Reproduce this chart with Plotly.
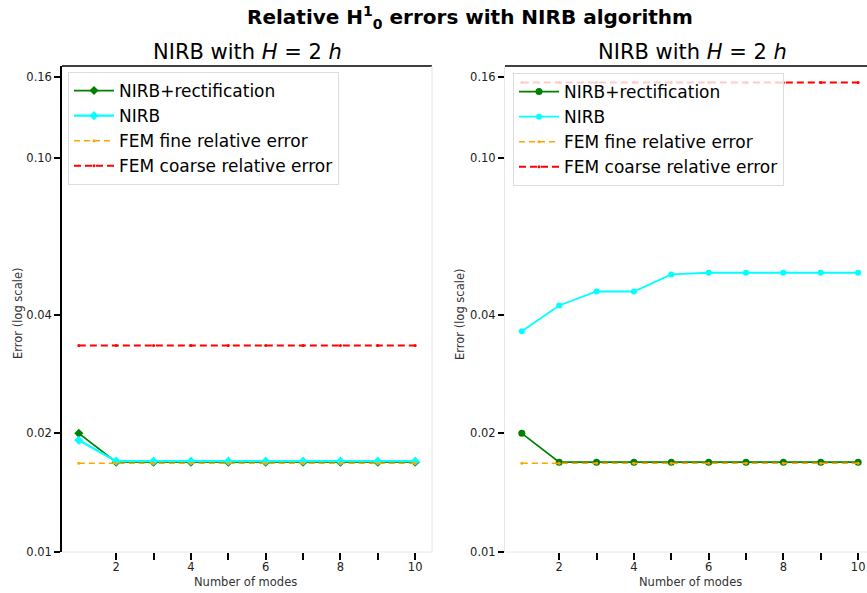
import plotly.graph_objects as go

# ---------------- data ----------------
modes = [1, 2, 3, 4, 5, 6, 7, 8, 9, 10]

left_rectif = [0.0200, 0.0169, 0.0169, 0.0169, 0.0169, 0.0169, 0.0169, 0.0169, 0.0169, 0.0169]
left_nirb = [0.0192, 0.0170, 0.0170, 0.0170, 0.0170, 0.0170, 0.0170, 0.0170, 0.0170, 0.0170]
left_fine = [0.0168, 0.0168, 0.0168, 0.0168, 0.0168, 0.0168, 0.0168, 0.0168, 0.0168, 0.0168]
left_coarse = [0.0334, 0.0334, 0.0334, 0.0334, 0.0334, 0.0334, 0.0334, 0.0334, 0.0334, 0.0334]

right_rectif = [0.0200, 0.0169, 0.0169, 0.0169, 0.0169, 0.0169, 0.0169, 0.0169, 0.0169, 0.0169]
right_nirb = [0.0363, 0.0422, 0.0458, 0.0458, 0.0506, 0.0511, 0.0511, 0.0511, 0.0511, 0.0511]
right_fine = [0.0168, 0.0168, 0.0168, 0.0168, 0.0168, 0.0168, 0.0168, 0.0168, 0.0168, 0.0168]
right_coarse = [0.1554, 0.1554, 0.1554, 0.1554, 0.1554, 0.1554, 0.1554, 0.1554, 0.1554, 0.1554]

series_names = ["NIRB+rectification", "NIRB", "FEM fine relative error", "FEM coarse relative error"]

x_tickvals = [2, 4, 6, 8, 10]
x_ticktext = ["2", "4", "6", "8", "10"]
x_minor_tickvals = [3, 5, 7, 9]
y_tickvals = [0.01, 0.02, 0.04, 0.10, 0.16]
y_ticktext = ["0.01", "0.02", "0.04", "0.10", "0.16"]

main_title = "<b>Relative H<sup>1</sup><sub>0</sub> errors with NIRB algorithm</b>"
sub_title = "NIRB with <i>H</i> = 2 <i>h</i>"
y_title = "Error (log scale)"
x_title = "Number of modes"

# ---------------- figure ----------------
W, H = 867, 593
FONT = "DejaVu Sans"
fig = go.Figure()

GREEN = "#008000"
CYAN = "#00FFFF"
ORANGE = "#FFA500"
RED = "#FF0000"


def add_panel(xa, ya, legend, rectif, nirb, fine, coarse, sym):
    fig.add_trace(go.Scatter(x=modes, y=rectif, name=series_names[0], mode="lines+markers",
                             line=dict(color=GREEN, width=1.8),
                             marker=dict(symbol=sym, size=7, color=GREEN),
                             xaxis=xa, yaxis=ya, legend=legend))
    fig.add_trace(go.Scatter(x=modes, y=nirb, name=series_names[1], mode="lines+markers",
                             line=dict(color=CYAN, width=2.2 if sym == "diamond" else 1.8),
                             marker=dict(symbol=sym, size=7 if sym == "diamond" else 6, color=CYAN),
                             xaxis=xa, yaxis=ya, legend=legend))
    fig.add_trace(go.Scatter(x=modes, y=fine, name=series_names[2], mode="lines+markers",
                             line=dict(color=ORANGE, width=1.5, dash="6px,4px"),
                             marker=dict(symbol="circle", size=3, color=ORANGE),
                             xaxis=xa, yaxis=ya, legend=legend))
    fig.add_trace(go.Scatter(x=modes, y=coarse, name=series_names[3], mode="lines+markers",
                             line=dict(color=RED, width=2, dash="7px,4px"),
                             marker=dict(symbol="circle", size=3, color=RED),
                             xaxis=xa, yaxis=ya, legend=legend))


add_panel("x", "y", "legend", left_rectif, left_nirb, left_fine, left_coarse, "diamond")
add_panel("x2", "y2", "legend2", right_rectif, right_nirb, right_fine, right_coarse, "circle")

yd = [41 / H, 527 / H]
xd1 = [62 / W, 432 / W]
xd2 = [505 / W, 1.0]

tickfont = dict(family=FONT, size=11.5, color="#222")

common_x = dict(type="linear", tickmode="array", tickvals=x_tickvals, ticktext=x_ticktext,
                ticks="outside", ticklen=7, tickwidth=2, tickcolor="black", automargin=False,
                ticklabelstandoff=-3,
                minor=dict(tickmode="array", tickvals=x_minor_tickvals, ticks="outside",
                           ticklen=7, tickwidth=2, tickcolor="black", showgrid=False),
                showgrid=False, zeroline=False, showline=False, tickfont=tickfont)
common_y = dict(type="log", range=[-2.0, -0.767], tickmode="array", tickvals=y_tickvals,
                ticktext=y_ticktext, ticks="outside", ticklen=6, tickwidth=2, tickcolor="black",
                showgrid=False, zeroline=False, tickfont=tickfont, domain=yd, automargin=False)

legend_common = dict(font=dict(family=FONT, size=17, color="black"),
                     bgcolor="rgba(255,255,255,0.8)", bordercolor="#dddddd", borderwidth=1,
                     xanchor="left", yanchor="top", itemwidth=40, tracegroupgap=0,
                     traceorder="normal")

fig.update_layout(
    template="none",
    width=W, height=H,
    margin=dict(l=0, r=0, t=0, b=0, pad=0),
    paper_bgcolor="white", plot_bgcolor="white",
    font=dict(family=FONT, color="black"),
    showlegend=True,
    xaxis=dict(common_x, domain=xd1, range=[0.55, 10.45], anchor="y"),
    yaxis=dict(common_y, anchor="x", showline=True, linecolor="black", linewidth=1.5),
    xaxis2=dict(common_x, domain=xd2, range=[0.55, 10.237], anchor="y2"),
    yaxis2=dict(common_y, anchor="x2", showline=True, linecolor="#e6e6e6", linewidth=1),
    legend=dict(legend_common, x=68 / W, y=1 - 72 / H),
    legend2=dict(legend_common, x=513 / W, y=1 - 73 / H),
)

# spines (top black, bottom/right light gray)
for xr, yr, right in (("x domain", "y domain", True), ("x2 domain", "y2 domain", False)):
    fig.add_shape(type="line", xref=xr, yref=yr, x0=0, x1=1, y0=1, y1=1,
                  line=dict(color="black", width=1.5))
    fig.add_shape(type="line", xref=xr, yref=yr, x0=0, x1=1, y0=0, y1=0,
                  line=dict(color="#e6e6e6", width=1))
    if right:
        fig.add_shape(type="line", xref=xr, yref=yr, x0=1, x1=1, y0=0, y1=1,
                      line=dict(color="#e6e6e6", width=1))

annotations = [
    dict(text=main_title, x=470 / W, y=1 - 17 / H, font=dict(family=FONT, size=20, color="black")),
    dict(text=sub_title, x=247 / W, y=1 - 52 / H, font=dict(family=FONT, size=21, color="black")),
    dict(text=sub_title, x=692 / W, y=1 - 52 / H, font=dict(family=FONT, size=21, color="black")),
    dict(text=y_title, x=18 / W, y=1 - 314 / H, textangle=-90, font=dict(family=FONT, size=11.5, color="#333")),
    dict(text=y_title, x=460 / W, y=1 - 314 / H, textangle=-90, font=dict(family=FONT, size=11.5, color="#333")),
    dict(text=x_title, x=245 / W, y=1 - 582 / H, font=dict(family=FONT, size=11.5, color="#333")),
    dict(text=x_title, x=690 / W, y=1 - 582 / H, font=dict(family=FONT, size=11.5, color="#333")),
]
for a in annotations:
    fig.add_annotation(xref="paper", yref="paper", showarrow=False,
                       xanchor="center", yanchor="middle", **a)

fig.write_html("out.html", config={"displayModeBar": False},
               post_script="document.body.style.margin='0px';document.body.style.padding='0px';")
